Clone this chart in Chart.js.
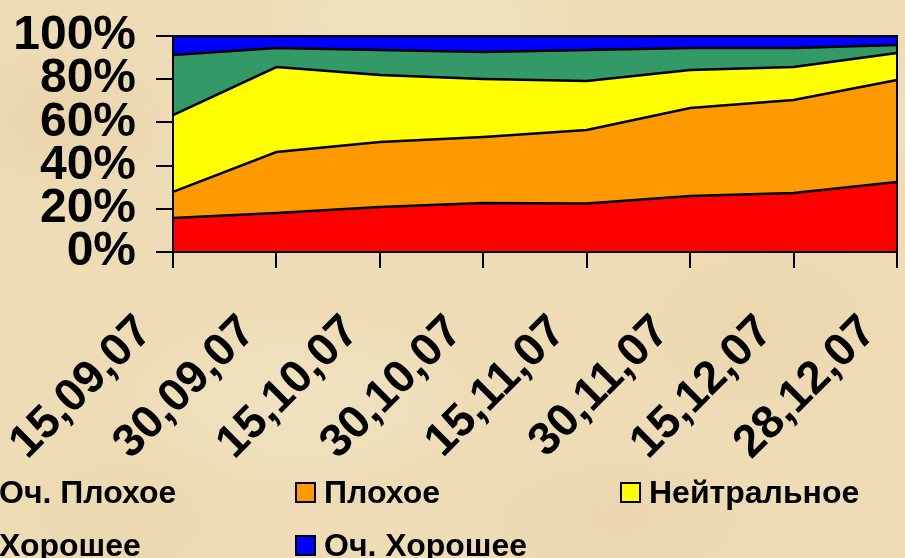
<!DOCTYPE html>
<html>
<head>
<meta charset="utf-8">
<script src="https://cdn.jsdelivr.net/npm/chart.js@4/dist/chart.umd.min.js"></script>
<style>
    html, body {
        margin: 0;
        padding: 0;
        width: 905px;
        height: 558px;
        overflow: hidden;
    }
    body {
        position: relative;
        background-color: #eedcb6;
        background-image:
            radial-gradient(ellipse 120px 80px at 60px 120px, rgba(228, 204, 160, 0.5), transparent),
            radial-gradient(ellipse 160px 90px at 420px 20px, rgba(242, 230, 200, 0.6), transparent),
            radial-gradient(ellipse 140px 100px at 760px 330px, rgba(230, 208, 166, 0.45), transparent),
            radial-gradient(ellipse 180px 90px at 300px 400px, rgba(242, 232, 204, 0.5), transparent),
            radial-gradient(ellipse 150px 70px at 620px 520px, rgba(230, 206, 164, 0.45), transparent),
            radial-gradient(ellipse 130px 90px at 120px 520px, rgba(232, 212, 170, 0.45), transparent),
            radial-gradient(ellipse 200px 80px at 860px 120px, rgba(240, 228, 198, 0.5), transparent);
    }
    #chartBox {
        position: absolute;
        left: 0;
        top: 0;
        width: 905px;
        height: 558px;
    }
    .legend-item {
        position: absolute;
        height: 26px;
        font: bold 32px "Liberation Sans", Arial, sans-serif;
        color: #000;
        white-space: nowrap;
        line-height: 26px;
    }
    .legend-box {
        position: absolute;
        left: 0;
        top: 1px;
        width: 17px;
        height: 17px;
        border: 2px solid #000;
    }
    .legend-text {
        position: absolute;
        left: 29px;
        top: -2px;
    }
</style>
</head>
<body>
<div id="chartBox"><canvas id="moodChart"></canvas></div>
<div id="legend"></div>

<script>
// ===============================
// DATA
// ===============================
const categories = ["15,09,07", "30,09,07", "15,10,07", "30,10,07", "15,11,07", "30,11,07", "15,12,07", "28,12,07"];

const seriesNames = ["Оч. Плохое", "Плохое", "Нейтральное", "Хорошее", "Оч. Хорошее"];

// shares, % (each column adds up to 100)
const veryBad  = [15.7, 18.0, 20.8, 22.7, 22.5, 25.9, 27.3, 32.4];
const bad      = [12.1, 28.3, 30.1, 30.5, 34.0, 40.8, 43.1, 47.2];
const neutral  = [35.6, 39.3, 31.0, 26.9, 22.7, 17.6, 15.2, 12.5];
const good     = [27.8,  8.8, 11.6, 12.5, 14.3, 10.1,  8.8,  3.7];
const veryGood = [ 8.8,  5.6,  6.5,  7.4,  6.5,  5.6,  5.6,  4.2];

const yTicks = [0, 20, 40, 60, 80, 100];

const seriesValues = [veryBad, bad, neutral, good, veryGood];
const seriesColors = ["#FF0000", "#FF9900", "#FFFF00", "#339966", "#0000FF"];

// ===============================
// CHART
// ===============================
const FONT = '"Liberation Sans", Arial, sans-serif';

// black frame round the plot area (top and right edges)
const frameLines = {
    id: "frameLines",
    afterDatasetsDraw(chart) {
        const { ctx, chartArea } = chart;
        ctx.save();
        ctx.strokeStyle = "#000";
        ctx.lineWidth = 2;
        ctx.strokeRect(chartArea.left, chartArea.top, chartArea.right - chartArea.left, chartArea.bottom - chartArea.top);
        ctx.restore();
    }
};

const datasets = seriesNames.map((name, i) => ({
    label: name,
    data: seriesValues[i],
    backgroundColor: seriesColors[i],
    borderColor: "#000",
    borderWidth: 2.5,
    pointRadius: 0,
    tension: 0,
    fill: i === 0 ? "origin" : "-1"
}));

new Chart(document.getElementById("moodChart"), {
    type: "line",
    data: { labels: categories, datasets: datasets },
    options: {
        responsive: true,
        maintainAspectRatio: false,
        animation: false,
        layout: { padding: { top: 36, right: 8, left: 0, bottom: 0 } },
        plugins: {
            legend: { display: false },
            tooltip: { enabled: false }
        },
        scales: {
            x: {
                grid: {
                    drawOnChartArea: false,
                    color: "#000",
                    lineWidth: 2,
                    tickLength: 16,
                    tickWidth: 2,
                    tickColor: "#000"
                },
                border: { display: true, color: "#000", width: 2 },
                ticks: {
                    color: "#000",
                    font: { family: FONT, size: 46, weight: "bold" },
                    minRotation: 45,
                    maxRotation: 45,
                    autoSkip: false,
                    labelOffset: -28,
                    padding: 37
                },
                afterFit(scale) {
                    scale.height = 306;
                    scale.paddingLeft = 0;
                    scale.paddingRight = 0;
                }
            },
            y: {
                stacked: true,
                min: 0,
                max: 100,
                afterBuildTicks(scale) { scale.ticks = yTicks.map(v => ({ value: v })); },
                grid: {
                    drawOnChartArea: false,
                    color: "#000",
                    lineWidth: 2,
                    tickLength: 17,
                    tickWidth: 2,
                    tickColor: "#000"
                },
                border: { display: true, color: "#000", width: 2 },
                ticks: {
                    color: "#000",
                    font: { family: FONT, size: 48, weight: "bold" },
                    padding: 20,
                    autoSkip: false,
                    callback: v => v + "%"
                },
                afterFit(scale) {
                    scale.width = 173;
                    scale.paddingTop = 0;
                    scale.paddingBottom = 0;
                }
            }
        }
    },
    plugins: [frameLines]
});

// ===============================
// LEGEND (html, 3 columns, first column runs off the left edge)
// ===============================
const legend = document.getElementById("legend");
seriesNames.forEach((name, i) => {
    const col = i % 3;
    const row = Math.floor(i / 3);
    const item = document.createElement("div");
    item.className = "legend-item";
    item.style.left = (-30 + col * 325) + "px";
    item.style.top = (481 + row * 53) + "px";
    item.innerHTML = `<span class="legend-box" style="background:${seriesColors[i]}"></span><span class="legend-text">${name}</span>`;
    legend.appendChild(item);
});
</script>
</body>
</html>
